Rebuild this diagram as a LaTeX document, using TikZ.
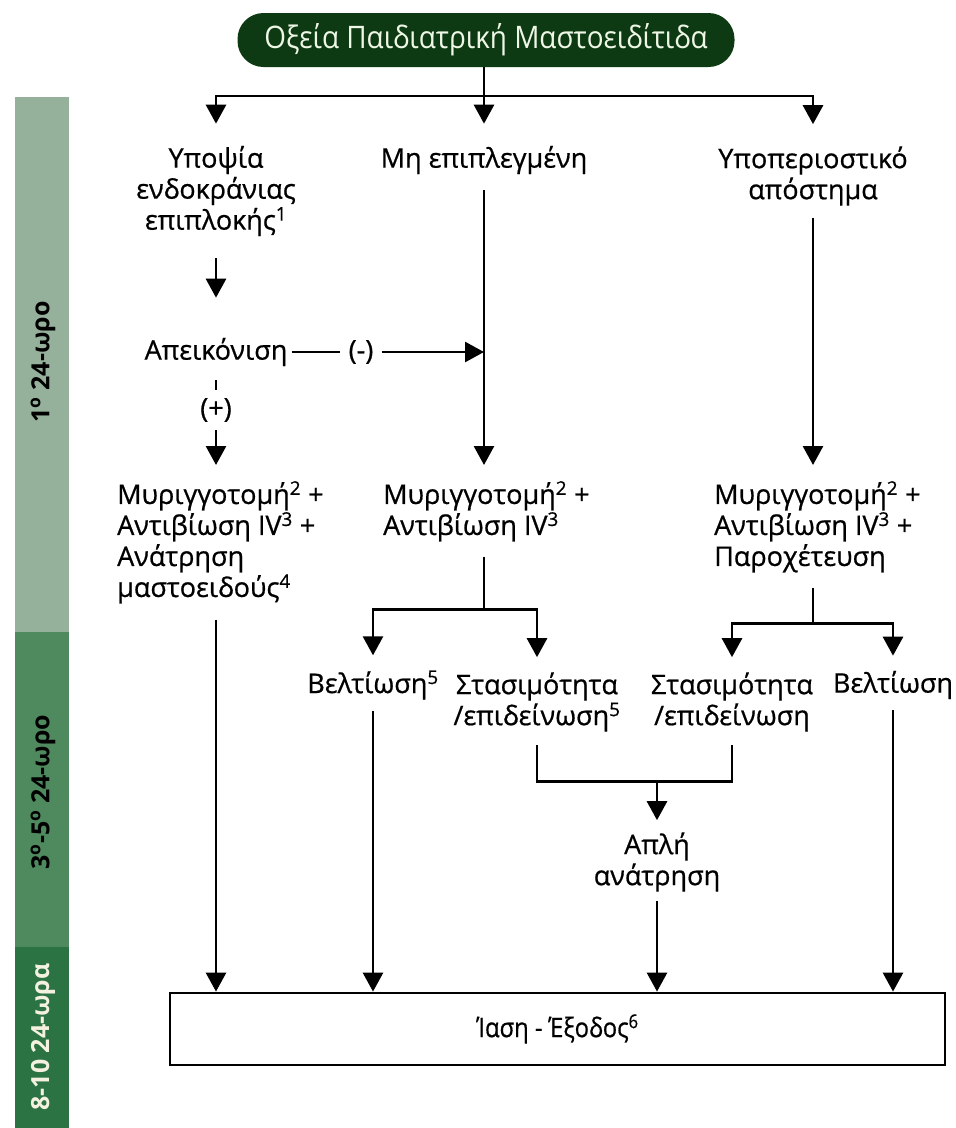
\documentclass[tikz,border=0pt]{standalone}
\usepackage{fontspec}
\setmainfont{Open Sans}
\newfontfamily\bodyfont{Open Sans}[FakeBold=0.7]
\usetikzlibrary{arrows.meta,calc}
\definecolor{pillgreen}{HTML}{0D3A12}
\definecolor{pilltext}{HTML}{EEF6E6}
\definecolor{sideA}{HTML}{95B19C}
\definecolor{sideB}{HTML}{4F8A5E}
\definecolor{sideC}{HTML}{2B7343}
\definecolor{sideCtext}{HTML}{F4F1E0}
\tikzset{
  lbl/.style={font=\bodyfont\fontsize{27}{31}\selectfont, align=center, inner sep=0pt, text=black},
  lbll/.style={lbl, align=left, anchor=north west},
  side/.style={font=\bfseries\fontsize{25}{28}\selectfont, rotate=90, inner sep=0pt},
  ln/.style={line width=2.8pt},
  arr/.style={ln, -{Triangle[width=20pt,length=19pt]}},
}
\begin{document}
\begin{tikzpicture}[x=1pt,y=-1pt]
\useasboundingbox (0,0) rectangle (956,1128);
\fill[white] (0,0) rectangle (956,1128);
% sidebar
\fill[sideA] (15,97) rectangle (69,632);
\fill[sideB] (15,632) rectangle (69,947);
\fill[sideC] (15,947) rectangle (69,1128);
\node[side] (s1lab) at (43,362) {1\textsuperscript{ο} 24-ωρο};
\node[side] (s2lab) at (43,792) {3\textsuperscript{ο}-5\textsuperscript{ο} 24-ωρο};
\node[side, text=sideCtext] (s3lab) at (43,1037) {8-10 24-ωρα};
% header
\node[fill=pillgreen, rounded corners=26pt, minimum width=497pt, minimum height=54pt, inner sep=0pt, text=pilltext]
  (top) at (486,40) {\scalebox{0.9}[1]{\fontsize{31}{34}\selectfont Οξεία Παιδιατρική Μαστοειδίτιδα}};
% first row
\node[lbl] (n1) at (216,191) {Υποψία\\ενδοκράνιας\\επιπλοκής\textsuperscript{1}};
\node[lbl] (n2) at (484,160) {Μη επιπλεγμένη};
\node[lbl] (n3) at (813,176) {Υποπεριοστικό\\απόστημα};
\node[lbl] (img) at (216,352) {Απεικόνιση};
\node[lbl] (minus) at (361,352) {(-)};
\node[lbl] (plus) at (216,410) {(+)};
% treatment blocks
\node[lbll] (m1) at (117,481) {Μυριγγοτομή\textsuperscript{2} +\\Αντιβίωση IV\textsuperscript{3} +\\Ανάτρηση\\μαστοειδούς\textsuperscript{4}};
\node[lbll] (m2) at (383,481) {Μυριγγοτομή\textsuperscript{2} +\\Αντιβίωση IV\textsuperscript{3}};
\node[lbll] (m3) at (714,481) {Μυριγγοτομή\textsuperscript{2} +\\Αντιβίωση IV\textsuperscript{3} +\\Παροχέτευση};
% outcomes
\node[lbl] (b1) at (373,685) {Βελτίωση\textsuperscript{5}};
\node[lbl] (st1) at (537,702) {Στασιμότητα\\/επιδείνωση\textsuperscript{5}};
\node[lbl] (st2) at (732,702) {Στασιμότητα\\/επιδείνωση};
\node[lbl] (b2) at (893,685) {Βελτίωση};
\node[lbl] (apl) at (657,862) {Απλή\\ανάτρηση};
\node[draw, line width=2.8pt, minimum width=775pt, minimum height=72pt, inner sep=0pt,
  font=\bodyfont\fontsize{27}{30}\selectfont] (exit) at (557.5,1029) {\scalebox{0.88}[1]{Ίαση - Έξοδος\textsuperscript{6}}};
% connectors
\coordinate (tj) at (484,96);
\draw[ln] (top.south -| tj) -- (tj);
\draw[arr] (tj) -| ($(n1.north)+(0,-22)$);
\draw[arr] (tj) -- ($(n2.north)+(0,-22)$);
\draw[arr] (tj) -| ($(n3.north)+(0,-22)$);
\draw[arr] ($(n1.south)+(0,22)$) -- ($(img.north)+(0,-40)$);
\draw[ln] ($(img.east)+(4,0)$) -- ($(minus.west)+(-8,0)$);
\draw[arr] ($(minus.east)+(8,0)$) -- (n2 |- img);
\draw[arr] ($(n2.south)+(0,16)$) -- ($(n2 |- m2.north)+(0,-16)$);
\draw[arr] ($(n3.south)+(0,12)$) -- ($(n3 |- m3.north)+(0,-16)$);
\draw[ln] ($(img.south)+(0,14)$) -- ($(plus.north)+(0,-8)$);
\draw[arr] ($(plus.south)+(0,8)$) -- ($(img |- m1.north)+(0,-16)$);
\draw[arr] ($(img |- m1.south)+(0,16)$) -- (img |- exit.north);
% middle split
\coordinate (j2) at ($(n2 |- m2.south)+(0,68)$);
\draw[ln] ($(n2 |- m2.south)+(0,15)$) -- (j2);
\draw[arr] (j2) -| ($(b1.north)+(0,-15)$);
\draw[arr] (j2) -| ($(st1.north)+(0,-15)$);
% right split
\coordinate (j3) at ($(n3 |- m3.south)+(0,51)$);
\draw[ln] ($(n3 |- m3.south)+(0,15)$) -- (j3);
\draw[arr] (j3) -| ($(st2.north)+(0,-15)$);
\draw[arr] (j3) -| ($(b2.north)+(0,-15)$);
% join
\coordinate (j4) at ($(apl |- st1.south)+(0,50)$);
\draw[ln] ($(st1.south)+(0,13)$) |- (j4) -| ($(st2.south)+(0,13)$);
\draw[arr] (j4) -- ($(apl.north)+(0,-12)$);
\draw[arr] ($(apl.south)+(0,9)$) -- (apl |- exit.north);
\draw[arr] ($(b1.south)+(0,11)$) -- (b1 |- exit.north);
\draw[arr] ($(b2.south)+(0,11)$) -- (b2 |- exit.north);
\end{tikzpicture}
\end{document}
